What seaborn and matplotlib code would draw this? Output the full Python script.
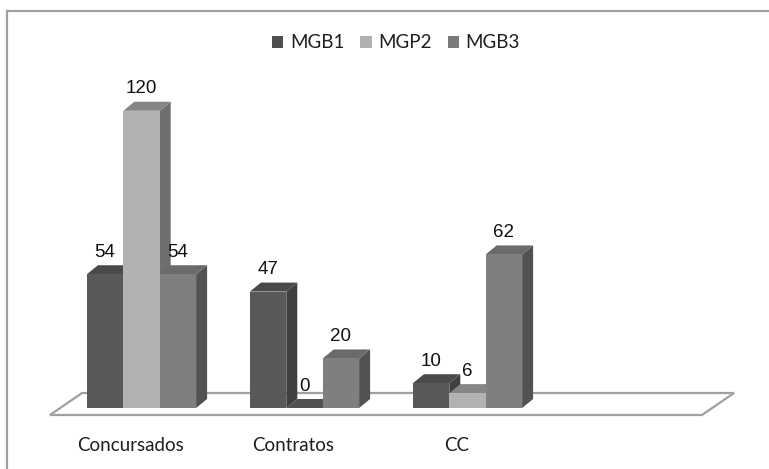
import numpy as np
import pandas as pd
import matplotlib
matplotlib.use("Agg")
import matplotlib.pyplot as plt
from matplotlib.patches import Polygon, Patch, Rectangle
from matplotlib.transforms import ScaledTranslation
import seaborn as sns

# ---- data ----
categorias = ["Concursados", "Contratos", "CC"]
series = ["MGB1", "MGP2", "MGB3"]
mgb1 = [54, 47, 10]
mgp2 = [120, 0, 6]
mgb3 = [54, 20, 62]

# face colours per series: front, right side, top
cor_frente = ["#595959", "#b2b2b2", "#7f7f7f"]
cor_lado = ["#404040", "#6e6e6e", "#525252"]
cor_topo = ["#4a4a4a", "#858585", "#6a6a6a"]
cor_sombra = "#505050"  # top of an empty bar, lying in its neighbour's shadow
cor_legenda = ["#4f4f4f", "#b0b0b0", "#7a7a7a"]

df = pd.DataFrame({
    "categoria": np.repeat(categorias, 3).tolist(),
    "serie": series * len(categorias),
    "valor": [v for trio in zip(mgb1, mgp2, mgb3) for v in trio],
})

sns.set_theme(style="white")
plt.rcParams["font.family"] = ["Lato", "DejaVu Sans"]

W, H, DPI = 769, 469, 100
fig = plt.figure(figsize=(W / DPI, H / DPI), dpi=DPI)
fig.patch.set_facecolor("white")

# axes: four category slots, value 0 sits on the floor line
ax_l, ax_r, ax_b, ax_t = 60, 712, 408, 86
ax = fig.add_axes([ax_l / W, (H - ax_b) / H, (ax_r - ax_l) / W, (ax_b - ax_t) / H])
ax.set_facecolor("none")

sns.barplot(data=df, x="categoria", y="valor", hue="serie", order=categorias,
            hue_order=series, palette=cor_frente, saturation=1, width=0.67,
            linewidth=0, ax=ax, legend=False)

ax.set_xlim(-0.5, 3.5)
ax.set_ylim(0, 130)
for s in ax.spines.values():
    s.set_visible(False)
ax.set_yticks([])
ax.set_xlabel("")
ax.set_ylabel("")
ax.tick_params(axis="x", length=0, pad=21, labelsize=13.5, labelcolor="#1e1e1e")


def px_to_data(dx_px, dy_px):
    """Convert a pixel shift (right, up) into data-unit deltas."""
    p0 = ax.transData.transform((0, 0))
    p1 = ax.transData.inverted().transform((p0[0] + dx_px, p0[1] + dy_px))
    return p1[0], p1[1]


# perspective depth of each bar
ddx, ddy = px_to_data(11, 9)

# floor slab
fx0, fy0 = px_to_data(-10, -7)
bx0, by0 = px_to_data(22, 15)
x_lo, x_hi = ax.get_xlim()
piso = Polygon([(x_lo + fx0, fy0), (x_hi + fx0, fy0), (x_hi + bx0, by0), (x_lo + bx0, by0)],
               closed=True, facecolor="white", edgecolor="#a0a0a0", lw=1.6,
               zorder=1, clip_on=False)
ax.add_patch(piso)

# extrude every bar: right side + top face, ordered left to right
for j, cont in enumerate(ax.containers):
    for i, bar in enumerate(cont.patches):
        k = i * 3 + j
        x0 = bar.get_x()
        w = bar.get_width()
        h = bar.get_height()
        x1 = x0 + w
        bar.set_zorder(3 + 2 * k)
        lado = Polygon([(x1, 0), (x1 + ddx, ddy), (x1 + ddx, h + ddy), (x1, h)],
                       closed=True, facecolor=cor_lado[j], edgecolor="none",
                       zorder=2 + 2 * k, clip_on=False)
        topo = Polygon([(x0, h), (x1, h), (x1 + ddx, h + ddy), (x0 + ddx, h + ddy)],
                       closed=True, facecolor=cor_topo[j] if h > 0 else cor_sombra,
                       edgecolor="none", zorder=2 + 2 * k, clip_on=False)
        ax.add_patch(lado)
        ax.add_patch(topo)

# value labels
valores = [mgb1, mgp2, mgb3]
for j, cont in enumerate(ax.containers):
    for i, bar in enumerate(cont.patches):
        xc = bar.get_x() + bar.get_width() / 2
        ax.annotate(str(valores[j][i]), xy=(xc, bar.get_height()),
                    xytext=(0, 22 * 72 / DPI), textcoords="offset points",
                    ha="center", va="center", fontsize=13.5,
                    family=["Liberation Sans", "DejaVu Sans"], color="#111111",
                    zorder=60, annotation_clip=False)

# category labels sit at the front edge of the floor
ax.set_xticks(range(len(categorias)))
ax.set_xticklabels(categorias)
for lab in ax.get_xticklabels():
    lab.set_transform(lab.get_transform() + ScaledTranslation(-11 / DPI, 0, fig.dpi_scale_trans))

# legend
handles = [Patch(facecolor=c, edgecolor="none") for c in cor_legenda]
fig.legend(handles, series, loc="center", bbox_to_anchor=(396 / W, 1 - 43 / H),
           ncol=3, frameon=False, fontsize=13.5, handlelength=0.6, handleheight=0.6,
           handletextpad=0.35, columnspacing=0.85, labelcolor="#1e1e1e")

# outer chart frame
fig.add_artist(Rectangle((7 / W, -0.2), 1.2, 1.2 - 11 / H, transform=fig.transFigure,
                         fill=False, edgecolor="#a0a0a0", lw=1.6))

fig.savefig("out.png", dpi=DPI)
